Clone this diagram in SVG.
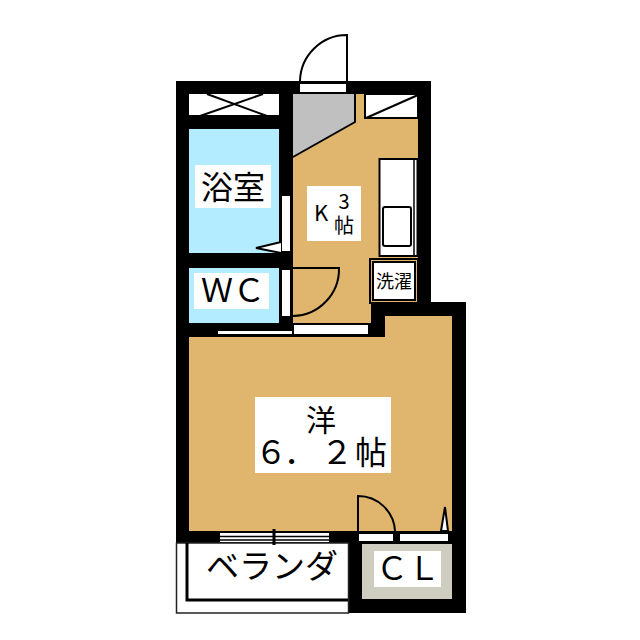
<svg xmlns="http://www.w3.org/2000/svg" width="640" height="640" viewBox="0 0 640 640">
<style>
.t{font-family:"Noto Sans CJK JP","Liberation Sans",sans-serif;fill:#000;text-anchor:middle}
.l{fill:none;stroke:#000;stroke-width:2}
.lb{fill:#fff}
</style>
<rect width="640" height="640" fill="#fff"/>
<path d="M176 81H431V302H466V613H348V543H176Z" fill="#000"/>
<rect x="176.500" y="543" width="172" height="70" fill="#fff" stroke="#222" stroke-width="1.500"/>
<path d="M187 543V600H348" fill="none" stroke="#000" stroke-width="3"/>
<rect x="189" y="94" width="90" height="21" fill="#fff"/>
<rect x="189" y="129" width="90" height="124" fill="#b3ecff"/>
<rect x="189" y="268" width="90" height="55" fill="#b3ecff"/>
<path d="M293 94H418V258H371V323H293Z" fill="#e0b56e"/>
<path d="M365 94V118H418V94Z" fill="#fff" stroke="#000" stroke-width="2"/>
<path d="M293 94H355V122L293 157Z" fill="#c0c0c0"/>
<path d="M189 337H385V316H452V531H189Z" fill="#e0b56e"/>
<rect x="362" y="544" width="90" height="55" fill="#cfcdc0"/>
<g id="fixtures">
<path d="M200 116L263 94M207 94L267 116" class="l"/>
<path d="M418 95L366 118" class="l"/>
<path d="M355 94V122L293 157" class="l"/>
<rect x="379.500" y="159" width="38" height="97" fill="#fff" stroke="#000" stroke-width="2"/>
<path d="M414 159V256" stroke="#000" fill="none" stroke-width="1.500"/>
<rect x="383" y="207" width="28" height="39" rx="2" fill="#fff" stroke="#000" stroke-width="2"/>
<rect x="370" y="259" width="48" height="44" fill="#e0b56e" stroke="#000" stroke-width="2"/>
<rect x="373" y="262" width="42" height="38" fill="#fff" stroke="#000" stroke-width="2"/>
</g>
<g id="doors">
<rect x="300" y="84" width="46" height="8" fill="#fff"/>
<path d="M347 81V35A47 47 0 0 0 300 81" class="l"/>
<rect x="282" y="196" width="8" height="55" fill="#fff"/>
<rect x="282" y="270" width="8" height="46" fill="#fff"/>
<path d="M281 242L256 248L281 253" fill="#fff" stroke="#000" stroke-width="2"/>
<path d="M293 268H339A47 47 0 0 1 293 316" class="l"/>
<rect x="218" y="331" width="74" height="3" fill="#fff"/>
<rect x="294" y="325" width="74" height="9" fill="#fff"/>
<rect x="220" y="533" width="109" height="9" fill="#fff"/>
<path d="M220 536.500H329M220 540H329" stroke="#000" stroke-width="1.500"/>
<path d="M274 529V545" stroke="#000" stroke-width="3"/>
<rect x="359" y="534" width="34" height="7" fill="#fff"/>
<rect x="400" y="534" width="48" height="7" fill="#fff"/>
<path d="M358 531V496A37 37 0 0 1 395 531" class="l"/>
<path d="M441 531L445 507L448 531Z" fill="#fff" stroke="#000" stroke-width="2"/>
</g>
<g id="room-bath"><rect x="195" y="165" width="76" height="43" class="lb"/><text x="233" y="199" font-size="32" class="t">浴室</text></g>
<g id="room-wc"><rect x="194" y="273" width="75" height="36" class="lb"/><text x="233" y="302" font-size="32" class="t">ＷＣ</text></g>
<g id="room-k"><rect x="307" y="186" width="54" height="55" class="lb"/><text x="321" y="221" font-size="22" class="t">K</text><text x="344" y="209" font-size="20" class="t">3</text><text x="344" y="233" font-size="20" class="t">帖</text></g>
<g id="room-wash"><text x="394" y="288" font-size="18" class="t">洗濯</text></g>
<g id="room-west"><rect x="255" y="397" width="136" height="76" class="lb"/><text x="321" y="431" font-size="30" class="t">洋</text><text x="271 300 337 371" y="464" font-size="32" class="t">６．２帖</text></g>
<g id="room-balcony"><text x="272" y="578" font-size="33" class="t">ベランダ</text></g>
<g id="room-cl"><rect x="374" y="551" width="67" height="36" class="lb"/><text x="408" y="580" font-size="32" class="t">ＣＬ</text></g>
</svg>
